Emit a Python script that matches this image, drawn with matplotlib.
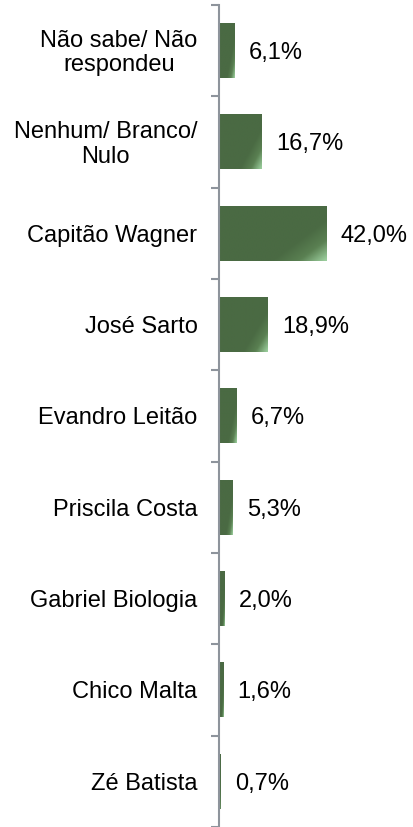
import numpy as np
import matplotlib.pyplot as plt
from matplotlib.colors import LinearSegmentedColormap

plt.rcParams['font.family'] = ['Liberation Sans', 'DejaVu Sans']

categories = ['Não sabe/ Não\nrespondeu', 'Nenhum/ Branco/\nNulo', 'Capitão Wagner',
              'José Sarto', 'Evandro Leitão', 'Priscila Costa', 'Gabriel Biologia',
              'Chico Malta', 'Zé Batista']
values = [6.1, 16.7, 42.0, 18.9, 6.7, 5.3, 2.0, 1.6, 0.7]
labels = ['6,1%', '16,7%', '42,0%', '18,9%', '6,7%', '5,3%', '2,0%', '1,6%', '0,7%']

fs = 17
axis_grey = '#8e949c'
cmap = LinearSegmentedColormap.from_list('bar', ['#4a6a43', '#4a6a43', '#5a8052', '#9ccf9e'])


def main():
    fig = plt.figure(figsize=(4.13, 8.28), dpi=100)
    ax = fig.add_axes([219 / 413, 0, 1 - 219 / 413, 1 - 6 / 828])

    n = len(categories)
    ys = np.arange(n)
    h = 0.6

    # diagonal gradient, lighter toward the lower right corner
    gx, gy = np.meshgrid(np.linspace(0, 1, 60), np.linspace(0, 1, 30))
    grad = np.clip((gx * 0.6 + gy * 0.4 - 0.55) / 0.45, 0, 1)

    for y, v, lab in zip(ys, values, labels):
        ax.imshow(grad, cmap=cmap, vmin=0, vmax=1, aspect='auto',
                  extent=(0, v, y + h / 2, y - h / 2), interpolation='bilinear', zorder=2)
        ax.annotate(lab, (v, y), xytext=(10.5, -1), textcoords='offset points',
                    va='center', ha='left', fontsize=fs)

    ax.set_xlim(0, 76)
    ax.set_ylim(n - 0.5, -0.5)
    ax.set_yticks(np.arange(n + 1) - 0.5)
    ax.set_yticklabels([])
    ax.tick_params(axis='y', direction='out', length=6, width=1.5, color=axis_grey)
    ax.set_xticks([])
    for y, c in zip(ys, categories):
        ax.annotate(c, (0, y), xytext=(-15.5, -1), textcoords='offset points',
                    ha='right', va='center', multialignment='center',
                    linespacing=1.15, fontsize=fs)

    for s in ['top', 'right', 'bottom']:
        ax.spines[s].set_visible(False)
    ax.spines['left'].set_color(axis_grey)
    ax.spines['left'].set_linewidth(1.5)

    plt.savefig('out.png', dpi=100)
    plt.close()


if __name__ == "__main__":
    main()
